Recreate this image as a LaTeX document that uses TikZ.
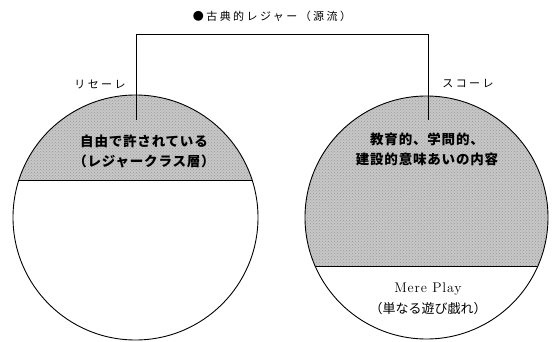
\documentclass[tikz,border=0pt]{standalone}
\usepackage{fontspec}
\newfontfamily\jp{Noto Sans CJK JP}
\newfontfamily\jpb{Noto Sans CJK JP}[LetterSpace=6]
\newfontfamily\jpl{Noto Sans CJK JP}[LetterSpace=22]
\newfontfamily\lmsp{Latin Modern Roman}[LetterSpace=6]
\usetikzlibrary{patterns}
\begin{document}
\begin{tikzpicture}[x=1pt,y=1pt,
  ring/.style={draw=black,line width=0.9pt},
  shade/.style={fill=black!22},
  dots/.style={pattern=crosshatch dots,pattern color=black!40},
  head/.style={font=\jpl\fontsize{11}{13}\selectfont,inner sep=0pt},
  inner/.style={font=\jpb\bfseries\fontsize{13.5}{20}\selectfont,align=center,inner sep=0pt},
  plain/.style={font=\lmsp\fontsize{14}{20}\selectfont,align=center,inner sep=0pt},
  bar/.style={draw=black,line width=0.9pt}]
\useasboundingbox (0,0) rectangle (557,-342);
% circle centres
\coordinate (cl) at (135.5,-217.5);
\coordinate (cr) at (426.5,-217.5);
% left circle
\begin{scope}
  \clip (cl) circle (122.5);
  \fill[shade] (0,0) rectangle (280,-180);
  \fill[dots] (0,0) rectangle (280,-180);
  \draw[bar] (0,-180) -- (280,-180);
\end{scope}
\draw[ring] (cl) circle (122.5);
% right circle
\begin{scope}
  \clip (cr) circle (121.5);
  \fill[shade] (280,0) rectangle (557,-266);
  \fill[dots] (280,0) rectangle (557,-266);
  \draw[bar] (280,-266) -- (557,-266);
\end{scope}
\draw[ring] (cr) circle (121.5);
% bracket
\coordinate (lt) at (136,-120);
\coordinate (rt) at (428,-120);
\coordinate (top) at (0,-34.5);
\draw[bar] (lt) -- (lt |- top) -- (rt |- top) -- (rt);
% labels
\node[head] (title) at (272,-16) {●古典的レジャー（源流）};
\node[head] (lab1) at (100,-84) {リセーレ};
\node[head] (lab2) at (468,-84) {スコーレ};
\node[inner] (t1) at (144,-151) {自由で許されている\\（レジャークラス層）};
\node[inner] (t2) at (427,-149) {教育的、学問的、\\建設的意味あいの内容};
\node[plain] (t3) at (428,-289) {Mere Play};
\node[plain,font=\jp\fontsize{13}{16}\selectfont] (t4) at (428,-309) {（単なる遊び戯れ）};
\end{tikzpicture}
\end{document}
